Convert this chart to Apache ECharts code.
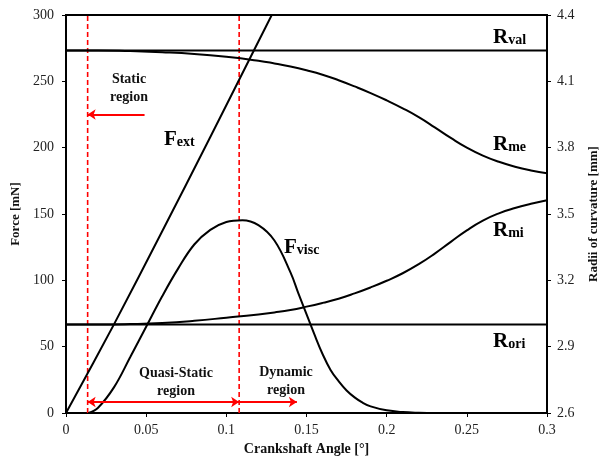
<!DOCTYPE html>
<html>
<head>
<meta charset="utf-8">
<script src="https://cdn.jsdelivr.net/npm/echarts@6/dist/echarts.min.js"></script>
<style>
  html, body { margin: 0; padding: 0; background: #fff; }
  #chart { width: 603px; height: 461px; }
</style>
</head>
<body>
<div id="chart"></div>
<script>
// Crank angle [°] and force [mN] / radius [mm] samples
const fextX = [0, 0.03, 0.06, 0.09, 0.12, 0.13];
const fextY = [0, 67, 137, 208, 280, 304];

const fviscX = [0.014, 0.02, 0.03, 0.04, 0.05, 0.06, 0.07, 0.08, 0.09, 0.10, 0.11, 0.12, 0.13, 0.14,
  0.145, 0.15, 0.155, 0.16, 0.165, 0.17, 0.175, 0.18, 0.185, 0.19, 0.20, 0.21, 0.22, 0.23, 0.30];
const fviscY = [0, 4, 19.5, 42, 65, 88, 109, 127, 138, 144, 145.3, 141.6, 130, 106,
  90, 74.5, 59, 44.5, 32.5, 24, 17, 11.8, 7.8, 5, 2, 0.7, 0.2, 0, 0];

const rmeX = [0, 0.02, 0.04, 0.06, 0.08, 0.10, 0.12, 0.13, 0.14, 0.15, 0.16, 0.17, 0.18, 0.19,
  0.20, 0.21, 0.22, 0.23, 0.24, 0.25, 0.26, 0.27, 0.28, 0.29, 0.30];
const rmeY = [4.24, 4.24, 4.237, 4.232, 4.224, 4.211, 4.193, 4.181, 4.167, 4.15, 4.13, 4.105, 4.077, 4.047,
  4.014, 3.978, 3.938, 3.892, 3.844, 3.800, 3.764, 3.736, 3.714, 3.697, 3.684];

const rmiX = [0, 0.02, 0.04, 0.06, 0.08, 0.10, 0.12, 0.13, 0.14, 0.15, 0.16, 0.17, 0.18, 0.19,
  0.20, 0.21, 0.22, 0.23, 0.24, 0.25, 0.26, 0.27, 0.28, 0.29, 0.30];
const rmiY = [3.0, 3.0, 3.002, 3.007, 3.017, 3.031, 3.046, 3.055, 3.066, 3.081, 3.098, 3.117, 3.141, 3.168,
  3.198, 3.232, 3.273, 3.321, 3.374, 3.426, 3.47, 3.503, 3.527, 3.546, 3.562];

const rval = 4.24;
const rori = 3.0;
const xRange = [0, 0.3];

// Region boundaries and arrows
const regionBounds = [0.0135, 0.108];
const staticArrow = { x: [0.049, 0.0135], y: 225 };
const quasiArrow = { x: [0.0135, 0.108], y: 8.3 };
const dynamicArrow = { x: [0.108, 0.144], y: 8.3 };

const xTicks = [0, 0.05, 0.1, 0.15, 0.2, 0.25, 0.3];
const forceTicks = [0, 300, 50];
const radiusTicks = [2.6, 4.4, 0.3];

const zip = (xs, ys) => xs.map((x, i) => [x, ys[i]]);
const serif = '"Liberation Serif", "Times New Roman", serif';
const black = '#000';

const curve = (name, data, yAxisIndex, smooth) => ({
  name, type: 'line', data, yAxisIndex, smooth,
  showSymbol: false, symbol: 'none', silent: true,
  lineStyle: { color: black, width: 2 }, z: 3
});

const arrow = (coords, symbols) => ({
  type: 'lines', coordinateSystem: 'cartesian2d', silent: true,
  symbol: symbols, symbolSize: 8,
  lineStyle: { color: '#ff0000', width: 2, opacity: 1 },
  data: [{ coords }], z: 4
});

const dashed = (x) => ({
  type: 'line', data: [[x, forceTicks[0]], [x, forceTicks[1]]], symbol: 'none', silent: true,
  lineStyle: { color: '#ff0000', width: 1.6, type: [5, 3] }, z: 2
});

const chart = echarts.init(document.getElementById('chart'), null, { renderer: 'canvas' });

const axisLabelStyle = { fontFamily: serif, fontSize: 14, color: '#222' };
const nameStyle = { fontFamily: serif, fontSize: 13, fontWeight: 'bold', color: '#111' };

const labelRich = {
  big: { fontFamily: serif, fontSize: 21, fontWeight: 'bold', color: black, verticalAlign: 'bottom' },
  sub: { fontFamily: serif, fontSize: 14, fontWeight: 'bold', color: black, verticalAlign: 'bottom', padding: [0, 0, 1, 0] }
};
const markLabel = (big, sub, left, top) => ({
  type: 'text', left, top, z: 10,
  style: { text: `{big|${big}}{sub|${sub}}`, rich: labelRich }
});
const regionText = (text, cx, top) => ({
  type: 'text', x: cx, y: top, z: 10,
  style: {
    text, fontFamily: serif, fontSize: 14, fontWeight: 'bold', fill: '#111',
    align: 'center', verticalAlign: 'top', lineHeight: 18
  }
});

chart.setOption({
  animation: false,
  grid: {
    left: 66, right: 56, top: 15, bottom: 48, outerBoundsMode: 'none',
    show: true, borderColor: black, borderWidth: 2
  },
  xAxis: {
    type: 'value', min: xTicks[0], max: xTicks[xTicks.length - 1], interval: xTicks[1] - xTicks[0],
    axisLine: { show: true, lineStyle: { color: black, width: 2 } },
    axisTick: { show: true, length: 4, lineStyle: { color: black } },
    splitLine: { show: false },
    axisLabel: Object.assign({ margin: 10 }, axisLabelStyle),
    name: 'Crankshaft Angle [°]', nameLocation: 'middle', nameGap: 27,
    nameTextStyle: Object.assign({}, nameStyle, { fontSize: 14 })
  },
  yAxis: [
    {
      type: 'value', min: forceTicks[0], max: forceTicks[1], interval: forceTicks[2],
      axisLine: { show: true, lineStyle: { color: black, width: 2 } },
      axisTick: { show: true, length: 4, lineStyle: { color: black } },
      splitLine: { show: false },
      axisLabel: Object.assign({ margin: 12 }, axisLabelStyle),
      name: 'Force [mN]', nameLocation: 'middle', nameRotate: 90, nameGap: 38,
      nameTextStyle: nameStyle
    },
    {
      type: 'value', position: 'right', min: radiusTicks[0], max: radiusTicks[1], interval: radiusTicks[2],
      axisLine: { show: true, lineStyle: { color: black, width: 2 } },
      axisTick: { show: true, length: 4, lineStyle: { color: black } },
      splitLine: { show: false },
      axisLabel: Object.assign({ margin: 10, formatter: (v) => v.toFixed(1) }, axisLabelStyle),
      name: 'Radii of curvature [mm]', nameLocation: 'middle', nameRotate: 90, nameGap: 40,
      nameTextStyle: nameStyle
    }
  ],
  series: [
    dashed(regionBounds[0]),
    dashed(regionBounds[1]),
    curve('Rval', [[xRange[0], rval], [xRange[1], rval]], 1, false),
    curve('Rori', [[xRange[0], rori], [xRange[1], rori]], 1, false),
    curve('Rme', zip(rmeX, rmeY), 1, 0.5),
    curve('Rmi', zip(rmiX, rmiY), 1, 0.5),
    curve('Fext', zip(fextX, fextY), 0, 0.3),
    curve('Fvisc', zip(fviscX, fviscY), 0, 0.4),
    arrow([[staticArrow.x[0], staticArrow.y], [staticArrow.x[1], staticArrow.y]], ['none', 'arrow']),
    arrow([[quasiArrow.x[0], quasiArrow.y], [quasiArrow.x[1], quasiArrow.y]], ['arrow', 'arrow']),
    arrow([[dynamicArrow.x[0], dynamicArrow.y], [dynamicArrow.x[1], dynamicArrow.y]], ['none', 'arrow'])
  ],
  graphic: [
    markLabel('F', 'ext', 164, 129),
    markLabel('F', 'visc', 284, 237),
    markLabel('R', 'val', 493, 27),
    markLabel('R', 'me', 493, 134),
    markLabel('R', 'mi', 493, 220),
    markLabel('R', 'ori', 493, 331),
    regionText('Static\nregion', 129, 70),
    regionText('Quasi-Static\nregion', 176, 364),
    regionText('Dynamic\nregion', 286, 363)
  ]
});
</script>
</body>
</html>
